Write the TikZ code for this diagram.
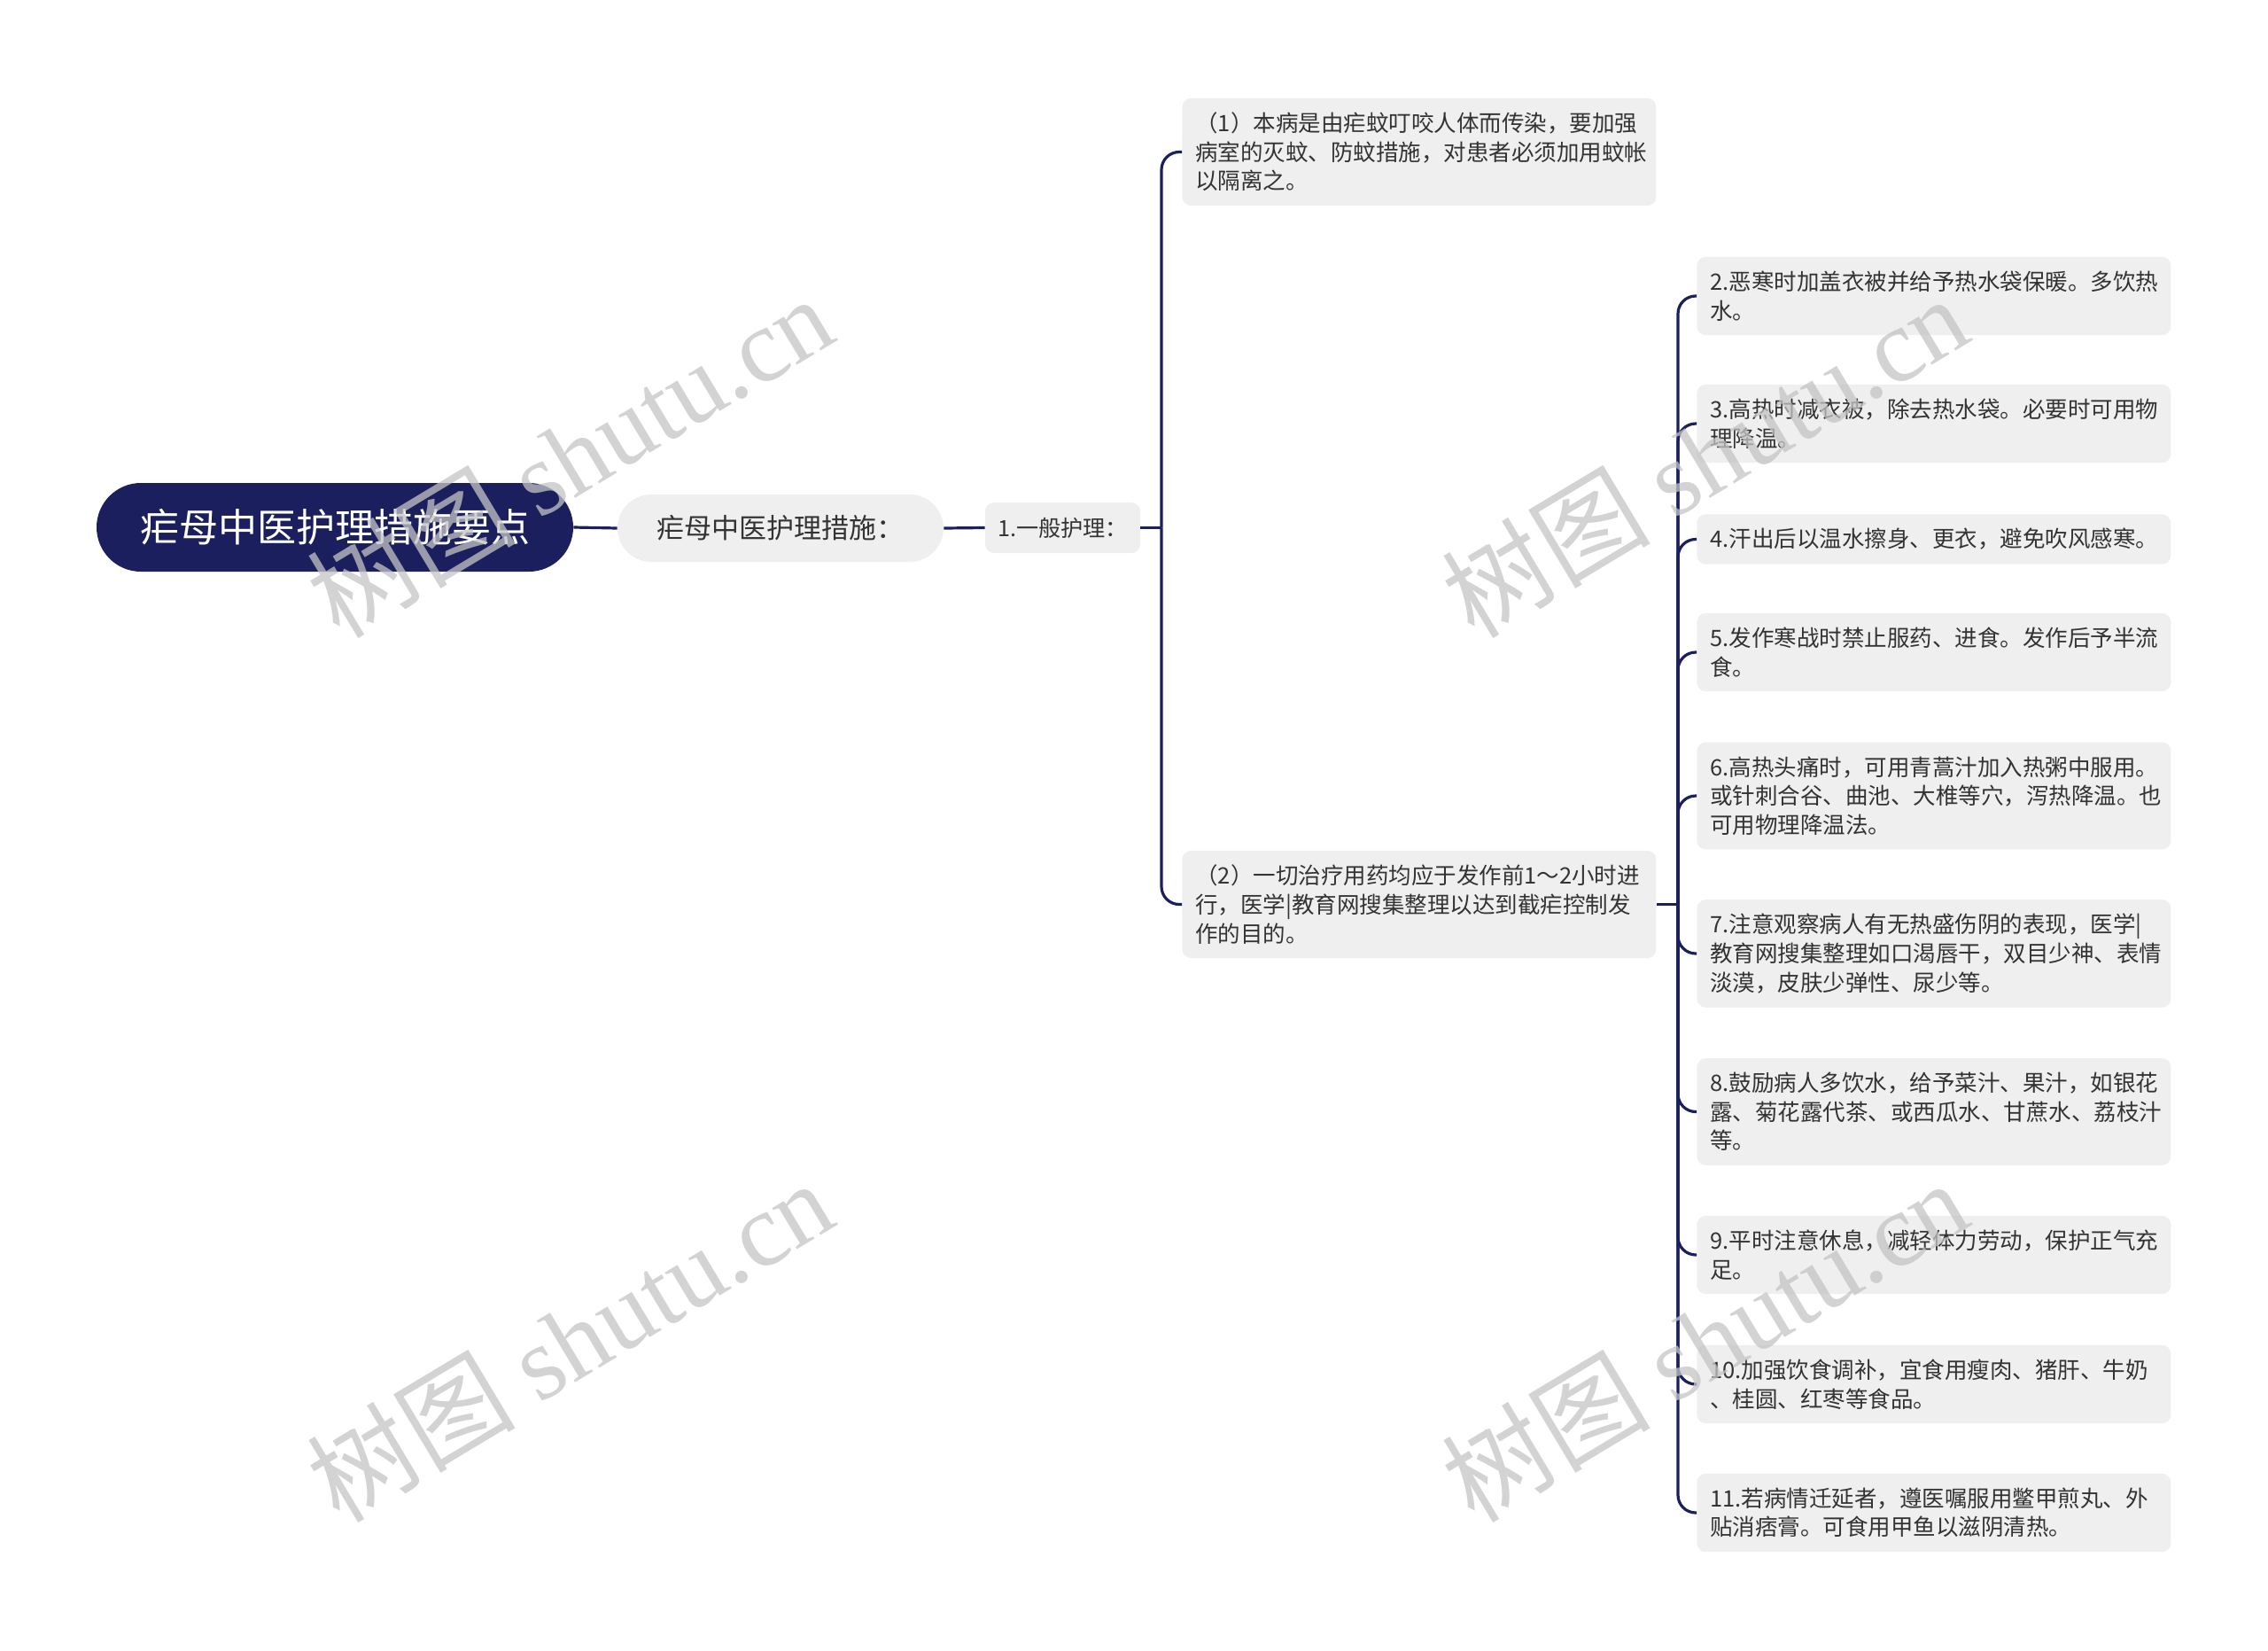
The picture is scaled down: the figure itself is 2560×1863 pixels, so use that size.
\documentclass[tikz,border=0pt]{standalone}
\usepackage{fontspec}
\setmainfont{Noto Sans CJK SC}
\newfontfamily\wmlatin{Liberation Serif}
\definecolor{navy}{RGB}{27,31,94}
\definecolor{boxgray}{RGB}{239,239,239}
\definecolor{txt}{RGB}{51,51,51}
\definecolor{wmgray}{RGB}{196,196,196}
\begin{document}
\begin{tikzpicture}[x=0.5pt,y=0.5pt,yscale=-1,xscale=1,
  link/.style={draw=navy,line width=1.6pt},
  elbow/.style={link,rounded corners=10pt},
  rootbox/.style={fill=navy,text=white,rounded corners=25pt,minimum width=269pt,minimum height=50pt,inner sep=0pt,font=\fontsize{22}{26}\selectfont},
  subbox/.style={fill=boxgray,text=txt,rounded corners=19pt,minimum width=184pt,minimum height=38pt,inner sep=0pt,font=\fontsize{15.5}{18}\selectfont},
  tagbox/.style={fill=boxgray,text=txt,rounded corners=5pt,minimum width=87.5pt,minimum height=28.5pt,inner sep=0pt,font=\fontsize{12.6}{16.3}\selectfont},
  leaf/.style={fill=boxgray,text=txt,rounded corners=5pt,anchor=west,text width=252.5pt,inner xsep=7.5pt,inner ysep=8pt,align=left,font=\fontsize{12.75}{16.3}\selectfont},
  wmark/.style={text=wmgray,opacity=0.75,rotate=31,font=\fontsize{59}{64}\selectfont}
]
\useasboundingbox (0,0) rectangle (2560,1863);

% Text Node
\node[rootbox] (root) at (378,595) {疟母中医护理措施要点};
\node[subbox] (sub) at (881,596) {疟母中医护理措施：};
\node[tagbox] (tag) at (1199.5,595.5) {1.一般护理：};

% Text Node
\node[leaf] (m1) at (1334,171.5) {（1）本病是由疟蚊叮咬人体而传染，要加强\\病室的灭蚊、防蚊措施，对患者必须加用蚊帐\\以隔离之。};
\node[leaf] (m2) at (1334,1020.5) {（2）一切治疗用药均应于发作前1～2小时进\\行，医学|教育网搜集整理以达到截疟控制发\\作的目的。};

% Text Node
\node[leaf] (r2) at (1915,334) {2.恶寒时加盖衣被并给予热水袋保暖。多饮热\\水。};
\node[leaf] (r3) at (1915,478) {3.高热时减衣被，除去热水袋。必要时可用物\\理降温。};
\node[leaf] (r4) at (1915,608.5) {4.汗出后以温水擦身、更衣，避免吹风感寒。};
\node[leaf] (r5) at (1915,736) {5.发作寒战时禁止服药、进食。发作后予半流\\食。};
\node[leaf] (r6) at (1915,898) {6.高热头痛时，可用青蒿汁加入热粥中服用。\\或针刺合谷、曲池、大椎等穴，泻热降温。也\\可用物理降温法。};
\node[leaf] (r7) at (1915,1076) {7.注意观察病人有无热盛伤阴的表现，医学|\\教育网搜集整理如口渴唇干，双目少神、表情\\淡漠，皮肤少弹性、尿少等。};
\node[leaf] (r8) at (1915,1254.5) {8.鼓励病人多饮水，给予菜汁、果汁，如银花\\露、菊花露代茶、或西瓜水、甘蔗水、荔枝汁\\等。};
\node[leaf] (r9) at (1915,1416) {9.平时注意休息，减轻体力劳动，保护正气充\\足。};
\node[leaf] (r10) at (1915,1562) {10.加强饮食调补，宜食用瘦肉、猪肝、牛奶\\、桂圆、红枣等食品。};
\node[leaf] (r11) at (1915,1707) {11.若病情迁延者，遵医嘱服用鳖甲煎丸、外\\贴消痞膏。可食用甲鱼以滋阴清热。};

%Straight Lines
\draw[link] (root.east) -- (sub.west);
\draw[link] (sub.east) -- (tag.west);
\coordinate (fork1) at (1311,595.5);
\coordinate (fork2) at (1894,1020.5);
\draw[link] (tag.east) -- (fork1);
\draw[link] (m2.east) -- (fork2);

%Curve Lines
\foreach \n in {m1,m2} \draw[elbow] (fork1) |- (\n.west);
\foreach \n in {r2,r3,r4,r5,r6,r7,r8,r9,r10,r11} \draw[elbow] (fork2) |- (\n.west);

% Text Node
\node[wmark] (wm1) at (643,514) {树图 {\wmlatin shutu.cn}};
\node[wmark] (wm2) at (1924,514) {树图 {\wmlatin shutu.cn}};
\node[wmark] (wm3) at (643,1512) {树图 {\wmlatin shutu.cn}};
\node[wmark] (wm4) at (1924,1512) {树图 {\wmlatin shutu.cn}};

\end{tikzpicture}
\end{document}
